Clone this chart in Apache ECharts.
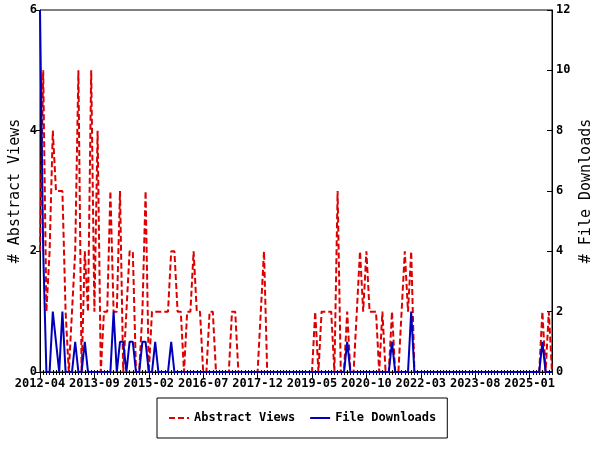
<!DOCTYPE html>
<html><head><meta charset="utf-8">
<script src="https://cdn.jsdelivr.net/npm/echarts/dist/echarts.min.js"></script>
<style>html,body{margin:0;padding:0;background:#fff}#c{width:600px;height:450px}</style>
</head><body><div id="c"></div>
<script>
// Monthly categories 2012-04 .. 2025-08
const firstYear = 2012, firstMonth = 4, monthCount = 161;
const months = [];
for (let k = 0; k < monthCount; k++) {
  const m = firstMonth - 1 + k;
  const y = firstYear + Math.floor(m / 12);
  const mm = (m % 12) + 1;
  months.push(y + '-' + (mm < 10 ? '0' + mm : '' + mm));
}

const abstractViews = [
  2,5,1,2,4,3,3,3,1,0,
  1,2,5,0,2,1,5,1,4,0,
  1,1,3,1,1,3,0,1,2,2,
  0,0,1,3,0,1,1,1,1,1,
  1,2,2,1,1,0,1,1,2,1,
  1,0,0,1,1,0,0,0,0,0,
  1,1,0,0,0,0,0,0,0,1,
  2,0,0,0,0,0,0,0,0,0,
  0,0,0,0,0,0,1,0,1,1,
  1,1,0,3,0,0,1,0,0,1,
  2,1,2,1,1,1,0,1,0,0,
  1,0,0,1,2,1,2,0,0,0,
  0,0,0,0,0,0,0,0,0,0,
  0,0,0,0,0,0,0,0,0,0,
  0,0,0,0,0,0,0,0,0,0,
  0,0,0,0,0,0,0,1,0,1,
  0
];

const fileDownloads = [
  12,4,0,0,2,1,0,2,0,0,
  0,1,0,0,1,0,0,0,0,0,
  0,0,0,2,0,1,1,0,1,1,
  0,0,1,1,0,0,1,0,0,0,
  0,1,0,0,0,0,0,0,0,0,
  0,0,0,0,0,0,0,0,0,0,
  0,0,0,0,0,0,0,0,0,0,
  0,0,0,0,0,0,0,0,0,0,
  0,0,0,0,0,0,0,0,0,0,
  0,0,0,0,0,0,1,0,0,0,
  0,0,0,0,0,0,0,0,0,0,
  1,0,0,0,0,0,2,0,0,0,
  0,0,0,0,0,0,0,0,0,0,
  0,0,0,0,0,0,0,0,0,0,
  0,0,0,0,0,0,0,0,0,0,
  0,0,0,0,0,0,0,1,0,0,
  0
];

const leftTicks = [0, 2, 4, 6];
const rightTicks = [0, 2, 4, 6, 8, 10, 12];

const mono = 'DejaVu Sans Mono';
const tickFont = { fontFamily: mono, fontWeight: 'bold', fontSize: 12, color: '#000' };

const chart = echarts.init(document.getElementById('c'), null, { renderer: 'canvas' });
chart.setOption({
  animation: false,
  backgroundColor: '#fff',
  grid: { left: 40, right: 48, top: 10, bottom: 78, show: true, borderColor: '#000', borderWidth: 1,
          containLabel: false, outerBoundsMode: 'none' },
  legend: {
    left: 157, top: 398,
    borderColor: '#000', borderWidth: 1,
    padding: [14, 11], itemGap: 14, itemWidth: 20, itemHeight: 10,
    itemStyle: { opacity: 0 },
    textStyle: { fontFamily: mono, fontWeight: 'bold', fontSize: 12, color: '#000' },
    data: ['Abstract Views', 'File Downloads']
  },
  xAxis: [
    {
      type: 'category', data: months, boundaryGap: false, position: 'bottom',
      axisLine: { show: true, lineStyle: { color: '#000', width: 1 } },
      axisTick: { show: true, interval: 0, length: 3, lineStyle: { color: '#000' } },
      axisLabel: Object.assign({ interval: 16, margin: 6 }, tickFont),
      splitLine: { show: false }
    },
    {
      type: 'category', data: months, boundaryGap: false, position: 'bottom',
      axisLine: { show: false },
      axisTick: { show: true, inside: true, interval: 0, length: 2, lineStyle: { color: '#000' } },
      axisLabel: { show: false }, splitLine: { show: false }
    },
    {
      type: 'category', data: months, boundaryGap: false, position: 'bottom',
      axisLine: { show: false },
      axisTick: { show: true, interval: 16, length: 6, lineStyle: { color: '#000' } },
      axisLabel: { show: false }, splitLine: { show: false }
    }
  ],
  yAxis: [
    {
      type: 'value', min: leftTicks[0], max: leftTicks[leftTicks.length - 1], interval: 2, position: 'left',
      name: '# Abstract Views', nameLocation: 'middle', nameRotate: 90, nameGap: 17, nameMoveOverlap: false,
      nameTextStyle: { fontFamily: mono, fontSize: 15, color: '#000' },
      axisLine: { show: true, lineStyle: { color: '#000' } },
      axisTick: { show: true, length: 4, lineStyle: { color: '#000' } },
      axisLabel: Object.assign({ margin: 3 }, tickFont),
      splitLine: { show: false }
    },
    {
      type: 'value', min: rightTicks[0], max: rightTicks[rightTicks.length - 1], interval: 2, position: 'right',
      name: '# File Downloads', nameLocation: 'middle', nameRotate: 90, nameGap: 27, nameMoveOverlap: false,
      nameTextStyle: { fontFamily: mono, fontSize: 15, color: '#000' },
      axisLine: { show: true, lineStyle: { color: '#000' } },
      axisTick: { show: true, inside: true, length: 5, lineStyle: { color: '#000' } },
      axisLabel: Object.assign({ margin: 4 }, tickFont),
      splitLine: { show: false }
    }
  ],
  series: [
    {
      name: 'Abstract Views', type: 'line', xAxisIndex: 0, yAxisIndex: 0,
      data: abstractViews, symbol: 'none', z: 2,
      itemStyle: { color: '#dd0000' },
      lineStyle: { color: '#dd0000', width: 2, type: [6, 3] }
    },
    {
      name: 'File Downloads', type: 'line', xAxisIndex: 0, yAxisIndex: 1,
      data: fileDownloads, symbol: 'none', z: 3,
      itemStyle: { color: '#0000bb' },
      lineStyle: { color: '#0000bb', width: 2 }
    }
  ]
});
</script></body></html>
